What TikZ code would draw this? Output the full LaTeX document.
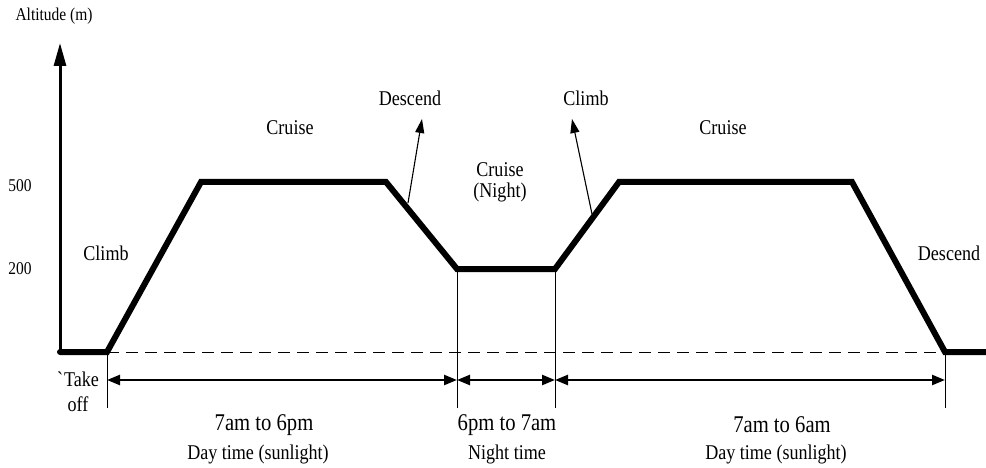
\documentclass[tikz,border=0pt]{standalone}
\usepackage{fontspec}
\setmainfont{Liberation Serif}[FakeStretch=0.86]
\usetikzlibrary{arrows.meta}

\begin{document}
\begin{tikzpicture}[x=1pt,y=-1pt,
  flight/.style={line width=6pt, line cap=round},
  axisline/.style={line width=3pt, -{Triangle[length=23pt,width=12pt]}},
  span/.style={line width=2.4pt, {Triangle[length=13pt,width=10pt]}-{Triangle[length=13pt,width=10pt]}},
  tickline/.style={line width=0.9pt},
  baseline/.style={line width=0.9pt, dash pattern=on 12pt off 7pt},
  pointer/.style={line width=1.1pt, -{Triangle[length=14pt,width=9pt]}},
  phase/.style={inner sep=0pt, font=\fontsize{21}{21}\selectfont},
  hours/.style={inner sep=0pt, font=\fontsize{24}{24}\selectfont},
  period/.style={inner sep=0pt, font=\fontsize{21}{21}\selectfont},
  small/.style={inner sep=0pt, font=\fontsize{18}{18}\selectfont}
]
\useasboundingbox (0,0) rectangle (986,468);

% flight profile corners
\coordinate (p0) at (60,352);
\coordinate (p1) at (107,352);
\coordinate (p2) at (201,182);
\coordinate (p3) at (386,182);
\coordinate (p4) at (457,269);
\coordinate (p5) at (555,269);
\coordinate (p6) at (619,182);
\coordinate (p7) at (852,182);
\coordinate (p8) at (945,352);
\coordinate (p9) at (992,352);

% altitude axis
\coordinate (ytop) at (60,43);
\draw[axisline] (p0) -- (ytop);

% dashed ground level
\draw[baseline] (p1) -- (p8);

% boundary ticks below the profile
\coordinate (t1) at (107,408);
\coordinate (t2) at (457,408);
\coordinate (t3) at (555,408);
\coordinate (t4) at (945,408);
\draw[tickline] (p1) -- (t1);
\draw[tickline] (p4) -- (t2);
\draw[tickline] (p5) -- (t3);
\draw[tickline] (p8) -- (t4);

% time spans
\coordinate (a1) at (107,380);
\coordinate (a2) at (457,380);
\coordinate (a3) at (555,380);
\coordinate (a4) at (945,380);
\draw[span] (a1) -- (a2);
\draw[span] (a2) -- (a3);
\draw[span] (a3) -- (a4);

% the profile itself
\draw[flight] (p0) -- (p1) -- (p2) -- (p3) -- (p4) -- (p5) -- (p6) -- (p7) -- (p8) -- (p9);

% labels
\node[small] (alt) at (54,16) {Altitude (m)};
\node[small] (h500) at (20,186) {500};
\node[small] (h200) at (20,269) {200};

\node[phase] (climb1) at (106,253) {Climb};
\node[phase] (cruise1) at (290,128) {Cruise};
\node[phase] (desc1) at (410,98) {Descend};
\node[phase] (cruiseN) at (500,170) {Cruise};
\node[phase] (night) at (500,192) {(Night)};
\node[phase] (climb2) at (586,98) {Climb};
\node[phase] (cruise2) at (723,128) {Cruise};
\node[phase] (desc2) at (949,253) {Descend};

\node[phase] (take) at (78,379) {\textasciigrave Take};
\node[phase] (off) at (78,404) {off};

\node[hours] (h1) at (264,425) {7am to 6pm};
\node[period] (d1) at (258,454) {Day time (sunlight)};
\node[hours] (h2) at (507,425) {6pm to 7am};
\node[period] (d2) at (507,454) {Night time};
\node[hours] (h3) at (782,425) {7am to 6am};
\node[period] (d3) at (776,454) {Day time (sunlight)};

% pointers from the slopes to their labels
\coordinate (s1) at (408,203);
\coordinate (s2) at (592,214);
\draw[pointer] (s1) -- (422,119);
\draw[pointer] (s2) -- (572,119);
\end{tikzpicture}
\end{document}
